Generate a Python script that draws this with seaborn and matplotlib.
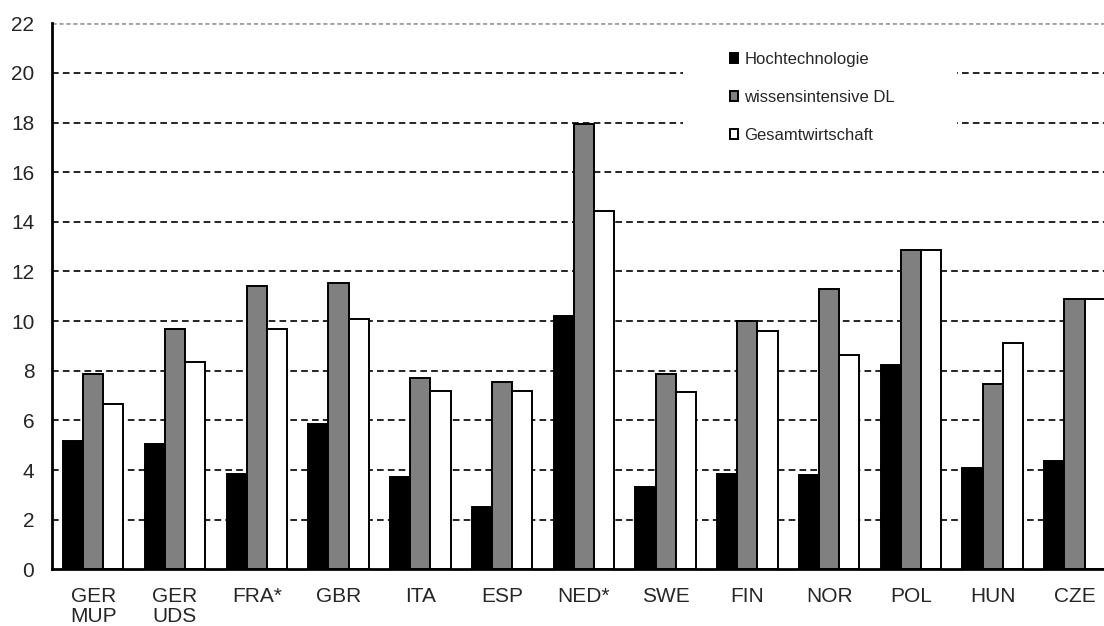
import pandas as pd
import matplotlib
matplotlib.use("Agg")
import matplotlib.pyplot as plt
from matplotlib.patches import Rectangle
import seaborn as sns

# Values
countries = ["GER\nMUP", "GER\nUDS", "FRA*", "GBR", "ITA", "ESP", "NED*",
             "SWE", "FIN", "NOR", "POL", "HUN", "CZE"]
series = ["Hochtechnologie", "wissensintensive DL", "Gesamtwirtschaft"]
hochtech = [5.15, 5.05, 3.85, 5.85, 3.7, 2.5, 10.2, 3.3, 3.85, 3.8, 8.25, 4.1, 4.35]
wissens_dl = [7.85, 9.7, 11.4, 11.55, 7.7, 7.55, 17.95, 7.85, 10.0, 11.3, 12.85, 7.45, 10.9]
gesamt = [6.65, 8.35, 9.7, 10.1, 7.2, 7.2, 14.45, 7.15, 9.6, 8.65, 12.85, 9.1, 10.9]
yticks = list(range(0, 23, 2))

df = pd.DataFrame({
    "land": countries * 3,
    "reihe": [series[0]] * 13 + [series[1]] * 13 + [series[2]] * 13,
    "wert": hochtech + wissens_dl + gesamt,
})

sns.set_style("white")
plt.rcParams["font.family"] = ["Liberation Sans", "DejaVu Sans"]

fig = plt.figure(figsize=(11.04, 6.26), dpi=100)
ax = fig.add_axes([0.0474, 0.0906, 0.9629, 0.8722])

sns.barplot(
    data=df, x="land", y="wert", hue="reihe", hue_order=series,
    palette=["#000000", "#808080", "#ffffff"], edgecolor="black",
    linewidth=1.4, width=0.74, gap=0, saturation=1, errorbar=None, ax=ax,
)

ax.set_xlim(-0.5, len(countries) - 0.5)
ax.set_ylim(0, 22)
ax.set_yticks(yticks)
ax.set_yticklabels([str(t) for t in yticks])
ax.set_xlabel("")
ax.set_ylabel("")

# dashed gridlines behind bars, grey dotted top line
for t in yticks[1:-1]:
    ax.axhline(t, color="black", linestyle=(0, (4, 2.5)), linewidth=1.2, zorder=0)
ax.axhline(22, color="#a0a0a0", linestyle=(0, (1.5, 1)), linewidth=2, zorder=0)

for side in ["top", "right"]:
    ax.spines[side].set_visible(False)
for side in ["left", "bottom"]:
    ax.spines[side].set_linewidth(2)
    ax.spines[side].set_color("black")

ax.tick_params(axis="y", length=0, pad=13, labelsize=15)
ax.tick_params(axis="x", length=0, pad=13, labelsize=15)
for lbl in ax.get_xticklabels():
    lbl.set_linespacing(1.05)

# white background box behind the legend (hides the grid there)
ax.add_patch(Rectangle((0.6187, 0.760), 0.248, 0.184, transform=fig.transFigure,
                       facecolor="white", edgecolor="none", zorder=0.5))

handles, labels = ax.get_legend_handles_labels()
leg = ax.legend(
    handles, labels,
    loc="upper left",
    bbox_to_anchor=(0.6612, 0.9169),
    bbox_transform=fig.transFigure,
    frameon=False,
    fontsize=12, handlelength=0.5, handleheight=0.5,
    handletextpad=0.35, labelspacing=1.38, borderpad=0,
    borderaxespad=0,
)
for h in leg.legend_handles:
    h.set_linewidth(1.4)
    h.set_edgecolor("black")

fig.savefig("out.png", dpi=100)
